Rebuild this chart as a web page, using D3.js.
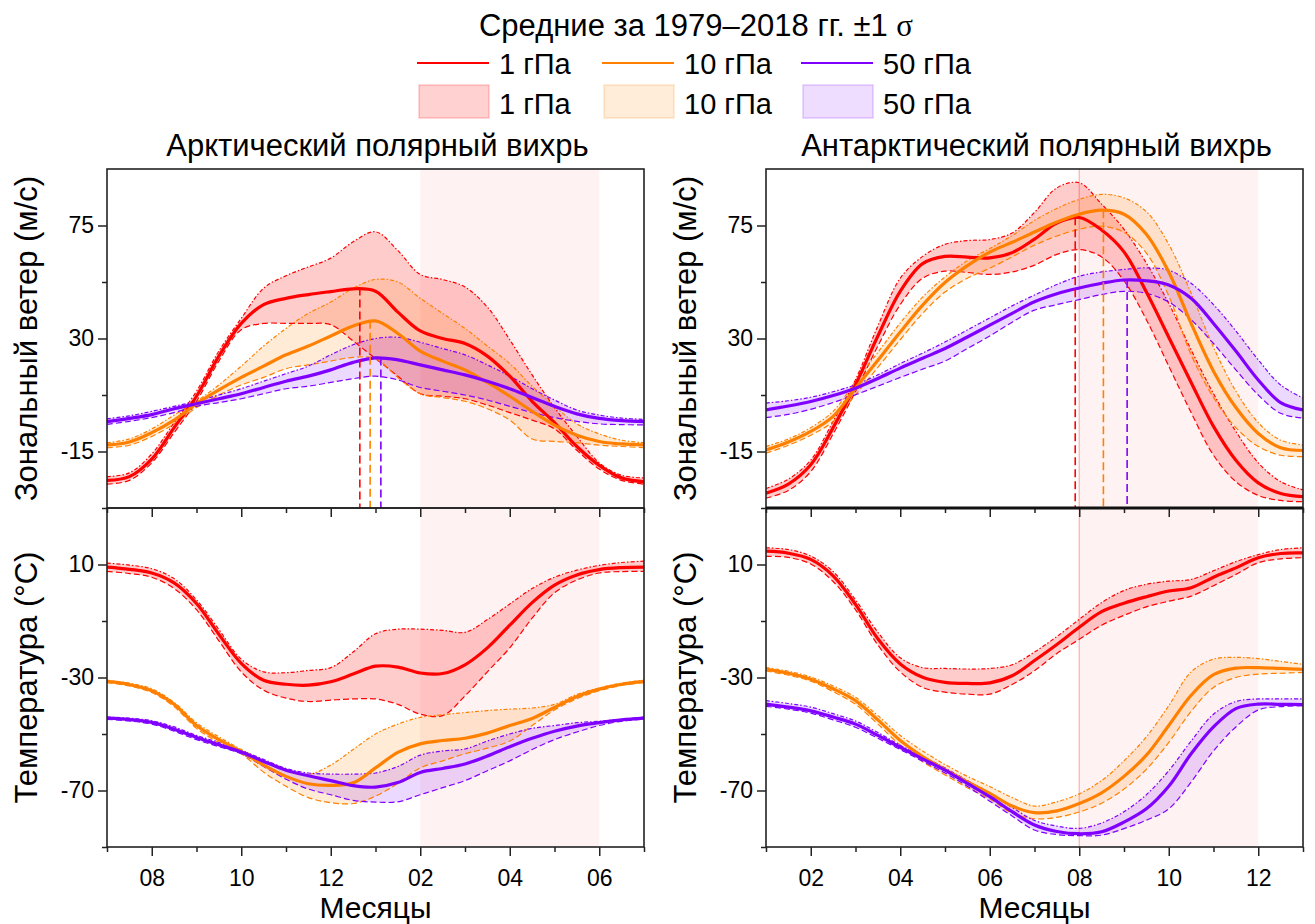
<!DOCTYPE html>
<html><head><meta charset="utf-8">
<script src="https://cdn.jsdelivr.net/npm/d3@7"></script>
<style>
body{margin:0;background:#fff}
text{font-family:"Liberation Sans",Arial,sans-serif;fill:#000}
</style>
</head><body>
<svg id="c" width="1315" height="924"></svg>
<script>
// ---------------- DATA ----------------
const monthsArctic = [7,7.5,8,8.5,9,9.5,10,10.5,11,11.5,12,12.5,13,13.5,14,14.5,15,15.5,16,16.5,17,17.5,18,18.5,19];
const monthsAntarctic = [1,1.5,2,2.5,3,3.5,4,4.5,5,5.5,6,6.5,7,7.5,8,8.5,9,9.5,10,10.5,11,11.5,12,12.5,13];
const arcticTickMonths = [8,10,12,14,16,18];
const arcticTickLabels = ["08","10","12","02","04","06"];
const antarcticTickMonths = [2,4,6,8,10,12];
const antarcticTickLabels = ["02","04","06","08","10","12"];
const windTicks = [-15,30,75];
const tempTicks = [-70,-30,10];
const levels = ["1 гПа","10 гПа","50 гПа"];

// Arctic zonal wind (m/s)
const windA1 = [-26.5,-25,-18,-5.5,7,23,36,43.5,46,47.5,48.7,49.8,48.8,40.5,33,30,28,23,15,5,-3.5,-13,-20.5,-25.5,-27];
const windA1hi = [-25,-23.5,-16,-3.5,9,25,38,50,55,58.5,62,68.5,72.5,65,55.5,53.5,50.5,42.5,29.5,15.5,2.5,-9,-19.5,-24.5,-25.5];
const windA1lo = [-28,-26.5,-19.5,-7.5,5,21,33.5,36,36,36,35.5,29,22,15,8,7,6,3.5,0.5,-2.5,-6,-14.5,-22,-26.5,-28];
const windA10 = [-12.4,-11.2,-7.5,-2.5,4,9.5,14.5,19,23.5,27,31,35,37,32,25,21,17.5,12.5,7,1,-4.5,-8.5,-11,-12,-12.4];
const windA10hi = [-11.5,-10,-6,-0.5,5,11.5,19,27,34,40,44.5,50,53.5,52.5,46,40,34,27,20,11,3,-4,-8,-10.5,-11.5];
const windA10lo = [-13.5,-12.5,-9,-4,2.5,7.5,11.5,14.5,18,19.5,21,22.5,22,14.5,8,6.5,5,2,-2.5,-10,-11,-11.5,-12.5,-13,-13.5];
const windA50 = [-3.1,-1.8,-0.3,2,4,6,8,10.5,13,15,17.5,20.5,22.3,21.5,19.5,17.5,15.5,13,10,6.5,3,0,-1.8,-2.7,-3.1];
const windA50hi = [-2,-0.8,1,3,5,7.5,10,13,16,19,23.5,27.5,30,30.5,28.5,26,23.5,19.5,15,10,5.5,1.5,-0.5,-1.7,-2.2];
const windA50lo = [-4.2,-3,-1.5,0.5,3,4.5,6,8,10,11,12.5,14,15,13.5,10.5,9,7.5,5.5,3,0.5,-1.5,-3,-4,-4.3,-4.4];

// Arctic temperature (°C)
const tempA1 = [9.1,8.3,7,3.5,-3.8,-14.7,-25,-31,-32.4,-32.7,-31.5,-28.8,-26,-26.3,-28.4,-28.6,-25.5,-19.5,-11.5,-3.5,2.7,6.3,8.2,8.9,9.1];
const tempA1hi = [10.5,9.8,8.5,5,-2.5,-13,-23.5,-28,-28.3,-27.5,-26.5,-21,-14.5,-12.9,-12.9,-13.3,-14,-9.5,-4,1.5,5.5,8,9.7,10.7,11.2];
const tempA1lo = [7.6,6.8,5.5,1.5,-6,-17,-28,-34.5,-37.3,-38.5,-38,-37.6,-37.6,-39.5,-43,-43.5,-36.5,-28,-19.5,-9,0,4.5,7,7.5,7.6];
const tempA10 = [-31.4,-32.5,-34.7,-39.5,-47,-52,-56.2,-61,-65,-67.6,-68.2,-67.3,-62,-56.5,-53.5,-52.3,-51.5,-49.7,-47,-44.5,-40.6,-36.7,-34.1,-32.4,-31.4];
const tempA10hi = [-31,-32,-34,-38.8,-46,-51,-55.5,-59.5,-63,-64.3,-61,-55.5,-50,-46.5,-44.1,-43.2,-42.4,-41.7,-41.2,-40.8,-39.5,-36,-33.7,-32,-31];
const tempA10lo = [-31.8,-33,-35.3,-40.3,-48,-53,-57,-63.5,-68.5,-72.5,-74.3,-74.6,-72,-67.5,-62,-59.5,-57,-55,-52.5,-47,-41.5,-37.5,-34.7,-32.8,-31.8];
const tempA50 = [-44.4,-44.9,-45.9,-48.3,-51.2,-53.8,-56.4,-59.7,-62.8,-64.8,-66.5,-68.3,-68.8,-67.2,-63.6,-62.2,-60.6,-57.8,-54.5,-51.5,-49,-47.2,-46,-45,-44.4];
const tempA50hi = [-44,-44.4,-45.3,-47.5,-50.5,-53,-55.8,-59,-62.2,-63.8,-64.2,-64.2,-63.8,-61.5,-57.5,-56,-55.3,-52.5,-50,-48,-47,-46,-45.5,-44.8,-44];
const tempA50lo = [-44.8,-45.4,-46.5,-49,-52,-54.5,-57,-61.5,-66,-69.5,-71.5,-73.5,-74.1,-74,-71.5,-69,-66.5,-63,-59.5,-55.5,-52,-49.3,-47,-45.5,-44.8];

// Antarctic zonal wind (m/s)
const windB1 = [-31.6,-28,-20.3,-5.5,11.6,31,48.8,59.8,62.7,62.4,62.1,64.2,69.6,76,78.2,73.2,64.5,48.5,30.5,12.5,-5,-18.5,-27.5,-31.7,-33];
const windB1hi = [-29.7,-26,-18.4,-3,13.6,35,54,62.7,67.5,69,69.4,72,80.2,90,92,83.5,73.5,60,44,25.5,8,-7,-19.5,-27,-30.3];
const windB1lo = [-33.6,-30.5,-23,-8,8.9,27,43.5,54,56.8,56.3,55.5,56.5,59.2,63.5,65.4,62.5,53,37.5,19,0.5,-16.5,-27,-32.5,-34.5,-35];
const windB10 = [-14.4,-11.2,-7,-1,10.2,21.3,32.6,43.3,52.3,59,64.4,68.3,72.4,76.4,79.5,81.1,79.5,71.5,56.5,36,17,2.5,-7.8,-13.5,-14.6];
const windB10hi = [-13,-10,-5.5,1,12.9,24.5,36.2,46.5,54.5,61,65.8,71,77,81.8,85.4,87.4,86,80.5,67.5,48,26.5,9,-3.5,-10.5,-12.4];
const windB10lo = [-15.7,-12.5,-8.5,-3,7.6,18.5,29.5,40,48.5,54,58,62.5,67.2,70.8,73.5,74.7,72.3,64,47,23.5,6.5,-5.5,-13,-16.5,-17];
const windB50 = [1.6,3.1,4.9,7.3,10.2,14.1,18.2,22.1,26,30.6,35.3,40,44.6,47.8,50.1,52,53.3,53,51.3,46,36,25,13.5,4.5,1.6];
const windB50hi = [4.3,5.2,6.6,8.8,11.6,15.5,20,24.2,28.6,33.4,38.2,43,47.3,51.5,54.8,56.5,57.5,58.1,57.2,52,43.5,33,21.5,11.5,6.3];
const windB50lo = [-1.5,-0.2,1.8,4.5,7.6,11,14.5,17.8,21,26,31,36.5,41.3,43.5,45.5,47.5,48.8,48,44.5,37.5,28,17.5,7.5,0.2,-1.7];

// Antarctic temperature (°C)
const tempB1 = [14.7,14,11.8,6,-4.1,-16.3,-25.2,-29.9,-31.7,-32.1,-31.9,-29.4,-24,-18.3,-12.2,-6.7,-3.7,-1.4,0.6,1.8,5.5,8.8,12.4,13.9,14.1];
const tempB1hi = [15.9,15.3,13,7.5,-2.5,-14,-23,-26.5,-26.8,-27,-26.8,-25.5,-21,-15.5,-9.4,-3.5,0.8,3,4.1,4.7,7.8,11,13.5,15.3,15.9];
const tempB1lo = [12.9,12.5,10.2,4,-6,-18.5,-28,-33.5,-35.2,-35.9,-35.9,-32.5,-27.6,-21.5,-16.5,-11.5,-8,-5,-3,-1.2,2.5,6.5,10.6,12,12.4];
const tempB10 = [-27.1,-28.5,-30.6,-34,-38.2,-45,-52.3,-58,-62.6,-67,-71,-75.5,-77.8,-77.2,-74.6,-70.8,-65,-57.5,-47,-36.3,-29,-26.7,-26.5,-26.8,-27.1];
const tempB10hi = [-26.5,-27.8,-29.8,-33,-37,-43.5,-50.5,-56,-60.8,-65,-68.6,-72.5,-75.5,-74,-71.2,-66.5,-59.5,-51,-40,-28,-23.5,-22.9,-23.3,-24.3,-25.3];
const tempB10lo = [-27.7,-29.2,-31.3,-35,-39.5,-46.5,-54,-59.8,-64.5,-69,-73,-78,-80,-79.5,-77.6,-74.5,-69.5,-62.5,-53,-42,-33.5,-30,-28.8,-28.5,-28.2];
const tempB50 = [-39.4,-40.5,-41.8,-44,-46.5,-50.5,-54.7,-58.8,-62.8,-67.5,-72.2,-77.5,-82.2,-84.5,-85.3,-84.6,-81.2,-76.5,-68.5,-57,-47.5,-41,-39.4,-39.5,-39.6];
const tempB50hi = [-38.2,-39.2,-40.5,-42.8,-45.4,-49.5,-54,-58,-62,-66.5,-71,-76,-80.6,-82.6,-83.4,-81.5,-77.5,-71.5,-63,-52.5,-43,-38.5,-37.6,-37.6,-37.6];
const tempB50lo = [-40.2,-41.2,-42.6,-45,-47.6,-51.5,-55.5,-59.6,-63.8,-68.5,-73.8,-79,-84,-85.6,-86,-85.8,-83.5,-80.5,-76.5,-67,-56,-47.5,-41.5,-40.3,-40];

// Months of peak wind (vertical dashed markers) and peak values
const peakMonthsArctic = [12.65,12.88,13.12];
const peakWindArctic = [50.3,37.1,22.4];
const peakMonthsAntarctic = [7.91,8.54,9.07];
const peakWindAntarctic = [78.3,81.1,53.3];

// ---------------- DRAWING ----------------
const colors = ["#ff0000","#ff8000","#8000ff"];
const bandOpacity = [0.2,0.16,0.15];
const svg = d3.select("#c");
const defs = svg.append("defs");
const curve = d3.curveCatmullRom.alpha(0.5);

const TOP = 169, MID = 508, BOT = 847;
const xA = d3.scaleLinear().domain([7,19]).range([107,644]);
const xB = d3.scaleLinear().domain([1,13]).range([766,1303]);
const yW = d3.scaleLinear().domain([-37.5,97.5]).range([MID,TOP]);
const yT = d3.scaleLinear().domain([-90,30]).range([BOT,MID]);

function plot(id, x, y, months, series, shade, shadeLine, peaks) {
  const [x0,x1] = x.range(); const [yb,yt] = y.range();
  defs.append("clipPath").attr("id",id).append("rect")
    .attr("x",x0).attr("y",yt).attr("width",x1-x0).attr("height",yb-yt);
  const g = svg.append("g").attr("clip-path",`url(#${id})`);
  g.append("rect").attr("x",x(shade[0])).attr("y",yt)
    .attr("width",x(shade[1])-x(shade[0])).attr("height",yb-yt).attr("fill","#fff2f2");
  if (shadeLine) g.append("line").attr("x1",x(shade[0])).attr("x2",x(shade[0]))
    .attr("y1",yt).attr("y2",yb).attr("stroke","#ffb4b4").attr("stroke-width",1.3);
  series.forEach((s,k) => {
    const area = d3.area().curve(curve).x((d,i)=>x(months[i]))
      .y0((d,i)=>y(s.lo[i])).y1((d,i)=>y(s.hi[i]));
    g.append("path").datum(s.mean).attr("d",area)
      .attr("fill",colors[k]).attr("fill-opacity",bandOpacity[k]);
  });
  const line = d3.line().curve(curve).x((d,i)=>x(months[i])).y(d=>y(d));
  series.forEach((s,k) => {
    g.append("path").datum(s.hi).attr("d",line).attr("fill","none")
      .attr("stroke",colors[k]).attr("stroke-width",1.2).attr("stroke-dasharray","4,2,1.5,2");
    g.append("path").datum(s.lo).attr("d",line).attr("fill","none")
      .attr("stroke",colors[k]).attr("stroke-width",1.2).attr("stroke-dasharray","6,3");
  });
  series.forEach((s,k) => {
    g.append("path").datum(s.mean).attr("d",line).attr("fill","none")
      .attr("stroke",colors[k]).attr("stroke-width",3.2);
  });
  if (peaks) {
    peaks.months.forEach((m,k) => {
      g.append("line").attr("x1",x(m)).attr("x2",x(m))
        .attr("y1",y(peaks.values[k])).attr("y2",yb)
        .attr("stroke",colors[k]).attr("stroke-width",1.6).attr("stroke-dasharray","8,4");
    });
  }
}

function axes(x, y, major, minor, xMajor, xMinor, xLabels, showXLabels) {
  const [x0,x1] = x.range(); const [yb,yt] = y.range();
  const gy = svg.append("g").attr("transform",`translate(${x0},0)`);
  gy.call(d3.axisLeft(y).tickValues(major).tickSize(9).tickPadding(4).tickFormat(d=>String(d)));
  gy.call(g=>g.select(".domain").remove());
  const gy2 = svg.append("g").attr("transform",`translate(${x0},0)`);
  gy2.call(d3.axisLeft(y).tickValues(minor).tickSize(5).tickFormat(""));
  gy2.call(g=>g.select(".domain").remove());
  const gx = svg.append("g").attr("transform",`translate(0,${yb})`);
  gx.call(d3.axisBottom(x).tickValues(xMajor).tickSize(9).tickPadding(14)
    .tickFormat((d,i)=> showXLabels ? xLabels[i] : ""));
  gx.call(g=>g.select(".domain").remove());
  const gx2 = svg.append("g").attr("transform",`translate(0,${yb})`);
  gx2.call(d3.axisBottom(x).tickValues(xMinor).tickSize(5).tickFormat(""));
  gx2.call(g=>g.select(".domain").remove());
  svg.selectAll(".tick line").attr("stroke","#222").attr("stroke-width",1.5);
  svg.selectAll(".tick text").attr("font-size",23).attr("font-family","Liberation Sans, Arial, sans-serif").attr("fill","#000");
  svg.append("rect").attr("x",x0).attr("y",yt).attr("width",x1-x0).attr("height",yb-yt)
    .attr("fill","none").attr("stroke","#222").attr("stroke-width",1.6);
}

const ser = (m,h,l)=>({mean:m,hi:h,lo:l});
plot("c1", xA, yW, monthsArctic,
  [ser(windA1,windA1hi,windA1lo), ser(windA10,windA10hi,windA10lo), ser(windA50,windA50hi,windA50lo)],
  [14,18], false, {months:peakMonthsArctic, values:peakWindArctic});
plot("c2", xA, yT, monthsArctic,
  [ser(tempA1,tempA1hi,tempA1lo), ser(tempA10,tempA10hi,tempA10lo), ser(tempA50,tempA50hi,tempA50lo)],
  [14,18], false, null);
plot("c3", xB, yW, monthsAntarctic,
  [ser(windB1,windB1hi,windB1lo), ser(windB10,windB10hi,windB10lo), ser(windB50,windB50hi,windB50lo)],
  [8,12], true, {months:peakMonthsAntarctic, values:peakWindAntarctic});
plot("c4", xB, yT, monthsAntarctic,
  [ser(tempB1,tempB1hi,tempB1lo), ser(tempB10,tempB10hi,tempB10lo), ser(tempB50,tempB50hi,tempB50lo)],
  [8,12], true, null);

const oddA = [7,9,11,13,15,17,19], oddB = [1,3,5,7,9,11,13];
axes(xA, yW, windTicks, [-37.5,7.5,52.5], arcticTickMonths, oddA, arcticTickLabels, false);
axes(xA, yT, tempTicks, [-90,-50,-10], arcticTickMonths, oddA, arcticTickLabels, true);
axes(xB, yW, windTicks, [-37.5,7.5,52.5], antarcticTickMonths, oddB, antarcticTickLabels, false);
axes(xB, yT, tempTicks, [-90,-50,-10], antarcticTickMonths, oddB, antarcticTickLabels, true);
svg.append("line").attr("x1",xB.range()[0]).attr("x2",xB.range()[1]).attr("y1",MID).attr("y2",MID)
  .attr("stroke","#111").attr("stroke-width",3);

// titles and labels
const F = 29, FT = 31;
[[xA,"Арктический полярный вихрь"],[xB,"Антарктический полярный вихрь"]].forEach(([x,t])=>{
  const cx = (x.range()[0]+x.range()[1])/2;
  svg.append("text").attr("x",cx+2).attr("y",156).attr("text-anchor","middle").attr("font-size",FT).text(t);
  svg.append("text").attr("x",cx).attr("y",918).attr("text-anchor","middle").attr("font-size",30).text("Месяцы");
  const lx = x.range()[0]-70;
  svg.append("text").attr("transform",`translate(${lx},${(TOP+MID)/2}) rotate(-90)`)
    .attr("text-anchor","middle").attr("font-size",FT).text("Зональный ветер (м/с)");
  svg.append("text").attr("transform",`translate(${lx},${(MID+BOT)/2}) rotate(-90)`)
    .attr("text-anchor","middle").attr("font-size",FT).text("Температура (°C)");
});

// legend
const lt = svg.append("text").attr("x",696).attr("y",36).attr("text-anchor","middle").attr("font-size",FT);
lt.append("tspan").text("Средние за 1979–2018 гг. ±1 ");
lt.append("tspan").attr("font-family","Liberation Serif, Times New Roman, serif").text("σ");
const legX = [417,602,801];
levels.forEach((lab,k)=>{
  svg.append("line").attr("x1",legX[k]).attr("x2",legX[k]+72).attr("y1",63).attr("y2",63)
    .attr("stroke",colors[k]).attr("stroke-width",2);
  svg.append("text").attr("x",legX[k]+82).attr("y",74).attr("font-size",F).text(lab);
  svg.append("rect").attr("x",legX[k]+2).attr("y",85).attr("width",70).attr("height",33)
    .attr("fill",colors[k]).attr("fill-opacity",bandOpacity[k]*0.9)
    .attr("stroke",colors[k]).attr("stroke-opacity",0.2).attr("stroke-width",1.5);
  svg.append("text").attr("x",legX[k]+82).attr("y",114).attr("font-size",F).text(lab);
});
</script>
</body></html>
